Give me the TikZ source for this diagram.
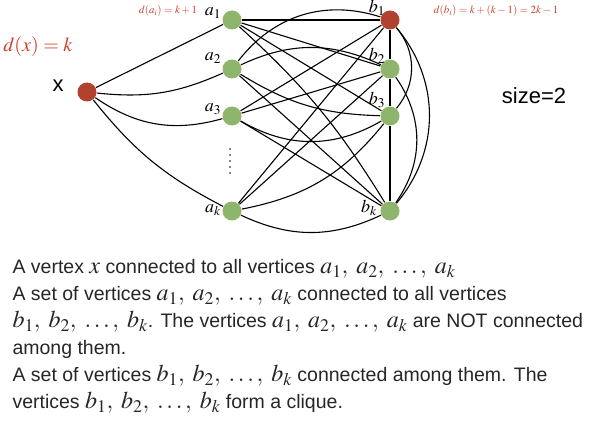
\documentclass[tikz,border=0pt]{standalone}
\usepackage{mathptmx}
\usepackage[no-math]{fontspec}
\setmainfont{Liberation Sans}
\usetikzlibrary{positioning}
\definecolor{vred}{RGB}{178,66,46}
\definecolor{vgreen}{RGB}{141,182,108}
\definecolor{degred}{RGB}{205,62,42}
% bigger math for the description
\newcommand{\mth}[1]{{\fontsize{24}{27}\selectfont$#1$}}
\newcommand{\vlist}[1]{\mth{#1_1,\; #1_2,\; \ldots,\; #1_k}}

\begin{document}
\begin{tikzpicture}[x=1pt, y=-1pt, line width=1.1pt,
    vtx/.style={circle, inner sep=0pt, minimum size=19pt},
    redv/.style={vtx, fill=vred},
    greenv/.style={vtx, fill=vgreen},
    lbl/.style={font=\fontsize{18}{18}\selectfont},
    deg/.style={text=degred, font=\fontsize{11}{11}\selectfont}]
    \useasboundingbox (0,0) rectangle (599,425);

    % vertices
    \node[redv] (x) at (87,92) {};
    \node[greenv] (a1) at (232,20) {};
    \node[greenv] (a2) at (232,69) {};
    \node[greenv] (a3) at (232,116) {};
    \node[greenv] (ak) at (232,211) {};
    \node[redv] (b1) at (390,20) {};
    \node[greenv] (b2) at (390,69) {};
    \node[greenv] (b3) at (390,116) {};
    \node[greenv] (bk) at (390,211) {};

    % labels
    \node[font=\fontsize{22}{22}\selectfont] (xl) at (58,86) {x};
    \node[lbl] at (213,13) {$a_1$};
    \node[lbl] at (213,58) {$a_2$};
    \node[lbl] at (213,109) {$a_3$};
    \node[lbl] at (213,210) {$a_k$};
    \node[lbl] at (377,8) {$b_1$};
    \node[lbl] at (377,56) {$b_2$};
    \node[lbl] at (377,100) {$b_3$};
    \node[lbl] at (369,208) {$b_k$};
    \foreach \y in {149,155,...,173}
        \fill (230,\y) circle (0.9pt);

    % degrees
    \node[text=degred, font=\fontsize{20}{20}\selectfont] (dx) at (38,47) {$d(x) = k$};
    \node[deg] (da) at (168,11) {$d(a_i) = k + 1$};
    \node[deg] (db) at (496,11) {$d(b_i) = k + (k-1) = 2k-1$};
    \node[font=\fontsize{22}{22}\selectfont] (size) at (534,96) {size=2};

    % x to all a
    \draw (x) -- (a1);
    \draw (x) to[bend right=15] (a2);
    \draw (x) to[bend right=25] (a3);
    \draw (x) to[bend right=12] (ak);

    % a to all b
    \draw (a1) -- (b1);
    \draw (a1) -- (b2);
    \draw (a1) -- (b3);
    \draw (a1) to[bend left=8] (bk);
    \draw (a2) to[bend left=35] (b1);
    \draw (a2) to[bend left=25] (b2);
    \draw (a2) to[bend right=15] (b3);
    \draw (a2) -- (bk);
    \draw (a3) -- (b1);
    \draw (a3) -- (b2);
    \draw (a3) to[bend right=30] (b3);
    \draw (a3) -- (bk);
    \draw (ak) -- (b1);
    \draw (ak) -- (b2);
    \draw (ak) to[bend right=20] (b3);
    \draw (ak) to[bend right=25] (bk);

    % clique on b
    \draw (b1) -- (b2) -- (b3) -- (bk);
    \draw (b1) to[bend left=40] (b3);
    \draw (b2) to[bend left=35] (bk);
    \draw (b1) to[bend left=40] (bk);

    % description
    \node[anchor=north west, align=left, inner sep=0pt, text=black!85,
        font=\fontsize{19.5}{27}\selectfont] (desc) at (12,259) {%
        A vertex \mth{x} connected to all vertices \vlist{a}\\
        A set of vertices \vlist{a} connected to all vertices\\
        \vlist{b}. The vertices \vlist{a} are NOT connected\\
        among them.\\
        A set of vertices \vlist{b} connected among them. The\\
        vertices \vlist{b} form a clique.};
\end{tikzpicture}
\end{document}
